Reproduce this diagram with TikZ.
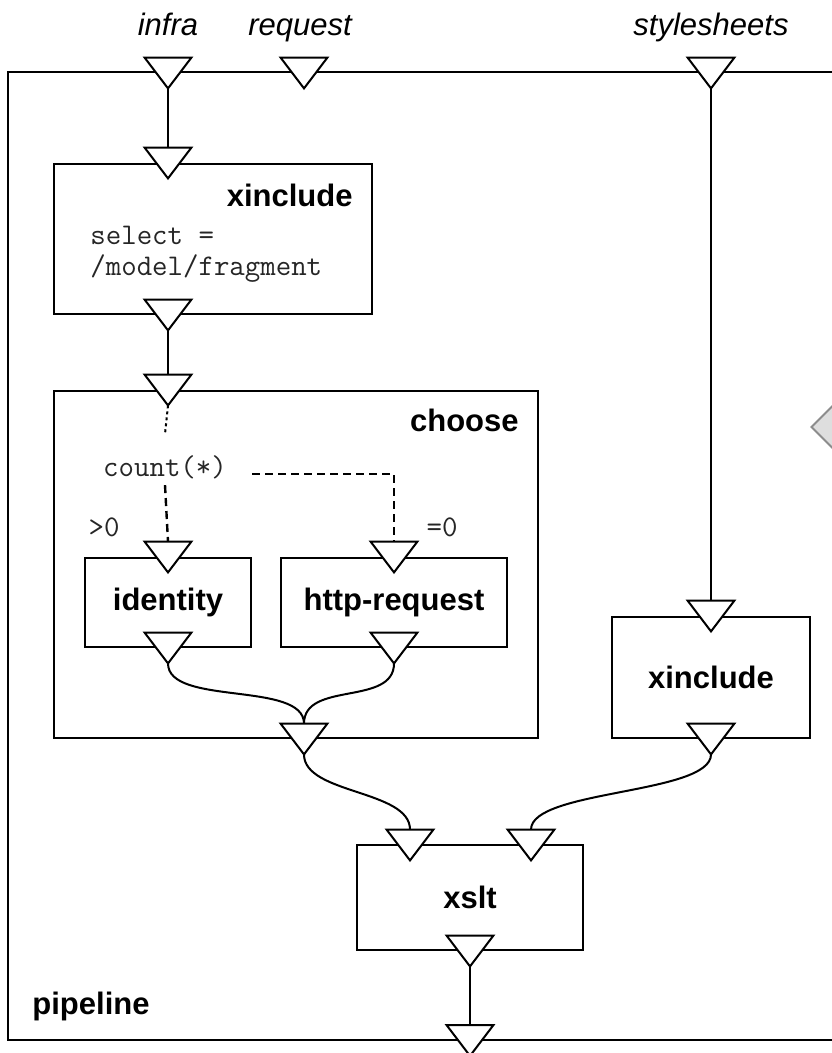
\documentclass[tikz,border=0pt]{standalone}
\usepackage{fontspec}
\setmainfont{Liberation Sans}
\usetikzlibrary{positioning,calc,shapes.geometric}

\tikzset{
  block/.style={draw, line width=1pt, fill=white, inner sep=0pt,
    font=\fontsize{15.5pt}{18pt}\selectfont\bfseries},
  port/.style={inner sep=0pt, minimum width=23pt, minimum height=15pt},
  wire/.style={line width=1pt},
  cond/.style={line width=1.2pt, dash pattern=on 4pt off 2.5pt},
  code/.style={inner sep=0pt, font=\fontsize{15pt}{15.5pt}\selectfont\ttfamily, text=black!85},
  portname/.style={inner sep=0pt, font=\fontsize{15.5pt}{18pt}\selectfont\itshape},
  stepname/.style={inner sep=0pt, font=\fontsize{15.5pt}{18pt}\selectfont\bfseries},
}

\begin{document}
\begin{tikzpicture}[x=0.5pt, y=-0.5pt]
  \useasboundingbox (0,0) rectangle (831,1053);

  % Steps
  \node [block, minimum width=413pt, minimum height=483.5pt] (pipeline) at (421,556) {};
  \node [block, minimum width=159pt, minimum height=75pt] (xinc1) at (213,239) {};
  \node [block, minimum width=242pt, minimum height=173.5pt] (choose) at (296,564.5) {};
  \node [block, minimum width=83pt, minimum height=44.5pt] (identity) at (168,602.5) {identity};
  \node [block, minimum width=113pt, minimum height=44.5pt] (httpreq) at (394,602.5) {http-request};
  \node [block, minimum width=99pt, minimum height=60.5pt] (xinc2) at (711,677.5) {xinclude};
  \node [block, minimum width=113pt, minimum height=52.5pt] (xslt) at (470,897.5) {xslt};

  \node [diamond, draw=black!45, fill=black!13, line width=1pt, inner sep=0pt,
    minimum size=23pt] (dock) at (834,427) {};

  % Step names and options
  \node [stepname, below left=10.5pt and 10pt of xinc1.north east] (xinc1name) {xinclude};
  \node [stepname, below left=9.5pt and 10pt of choose.north east] (choosename) {choose};
  \node [stepname, above right=9.5pt and 12.5pt of pipeline.south west] (pipename) {pipeline};
  \node [code, anchor=west, align=left] (selectexpr) at (90,254.5) {select =\\/model/fragment};
  \node [code] (count) at (165,467) {count(*)};
  \node [code] (gtzero) at (104,527) {>0};
  \node [code] (eqzero) at (442,527) {=0};

  % Ports
  \node [port] (infra) at (168,73) {};
  \node [port] (request) at (304,73) {};
  \node [port] (sheets) at (711,73) {};
  \node [port] (pipeout) at (pipeline.south -| xslt) {};
  \node [port] (xinc1in) at (infra |- xinc1.north) {};
  \node [port] (xinc1out) at (infra |- xinc1.south) {};
  \node [port] (choosein) at (infra |- choose.north) {};
  \node [port] (chooseout) at (request |- choose.south) {};
  \node [port] (idin) at (identity.north) {};
  \node [port] (idout) at (identity.south) {};
  \node [port] (httpin) at (httpreq.north) {};
  \node [port] (httpout) at (httpreq.south) {};
  \node [port] (xinc2in) at (xinc2.north) {};
  \node [port] (xinc2out) at (xinc2.south) {};
  \node [port] (xsltin1) at (410,845) {};
  \node [port] (xsltin2) at (531,845) {};
  \node [port] (xsltout) at (xslt.south) {};

  \node [portname, anchor=base] (infraname) at ($(infra.north)+(0,-22)$) {infra};
  \node [portname, anchor=base] (requestname) at ($(request.north)+(-4,-22)$) {request};
  \node [portname, anchor=base] (sheetsname) at ($(sheets.north)+(0,-22)$) {stylesheets};

  % Wires
  \draw [wire] (infra.south) -- (xinc1in.north);
  \draw [wire] (xinc1out.south) -- (choosein.north);
  \draw [wire] (sheets.south) -- (xinc2in.north);
  \draw [wire] (xsltout.south) -- (pipeout.north);
  \draw [wire] (idout.south) .. controls +(0,43) and +(0,-43) .. (chooseout.north);
  \draw [wire] (httpout.south) .. controls +(0,43) and +(0,-43) .. (chooseout.north);
  \draw [wire] (chooseout.south) .. controls +(0,40) and +(0,-40) .. (xsltin1.north);
  \draw [wire] (xinc2out.south) .. controls +(0,40) and +(0,-40) .. (xsltin2.north);

  % Branches of choose
  \coordinate (fork) at (252,474);
  \draw [wire, dash pattern=on 1.5pt off 1.5pt] (choosein.south) -- ([yshift=10.5pt]count.north);
  \draw [cond] ([yshift=-3pt]count.south) -- (idin.north);
  \draw [cond] (fork) -| (httpin.north);

  \foreach \p in {infra, request, sheets, pipeout, xinc1in, xinc1out, choosein, chooseout,
      idin, idout, httpin, httpout, xinc2in, xinc2out, xsltin1, xsltin2, xsltout}
    \draw [wire, fill=white] (\p.north west) -- (\p.north east) -- (\p.south) -- cycle;
\end{tikzpicture}
\end{document}
